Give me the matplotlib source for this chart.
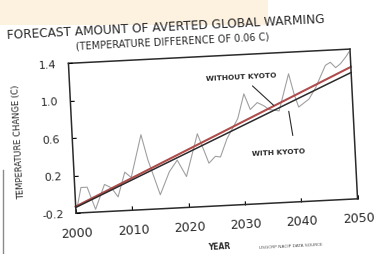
import matplotlib
matplotlib.use("Agg")
import matplotlib.pyplot as plt
from matplotlib.transforms import Affine2D
from matplotlib.patches import Rectangle
from matplotlib.lines import Line2D
import mpl_toolkits.axisartist.floating_axes as floating_axes
from mpl_toolkits.axisartist.grid_finder import FixedLocator, DictFormatter


# noisy model run (read off the photo, so only approximate)
years = [2000.3, 2001.1, 2002.2, 2003.5, 2005.3, 2006.5, 2007.6, 2009.0,
         2010.1, 2012.2, 2013.2, 2015.1, 2016.9, 2018.4, 2019.9, 2022.2,
         2024.0, 2025.2, 2026.1, 2027.4, 2029.5, 2030.8, 2031.8, 2033.1,
         2034.3, 2035.1, 2036.9, 2038.9, 2039.7, 2040.4, 2042.3, 2043.6,
         2044.5, 2045.5, 2046.4, 2047.3, 2048.2, 2049.2, 2049.8]
temp_change = [-0.13, 0.07, 0.07, -0.17, 0.09, 0.05, -0.05, 0.21,
               0.15, 0.60, 0.33, -0.05, 0.19, 0.31, 0.13, 0.58,
               0.26, 0.33, 0.32, 0.51, 0.72, 0.98, 0.81, 0.88,
               0.84, 0.80, 0.78, 1.17, 0.95, 0.81, 0.89, 1.01,
               1.12, 1.24, 1.27, 1.21, 1.25, 1.32, 1.37]

# straight trend lines
trend_years = [2000, 2050]
without_kyoto = [-0.13, 1.21]
with_kyoto = [-0.14, 1.15]

x_ticks = [2000, 2010, 2020, 2030, 2040, 2050]
y_ticks = [-0.2, 0.2, 0.6, 1.0, 1.4]
y_tick_labels = ["-0.2", "0.2", "0.6", "1.0", "1.4"]

TILT = 2.9  # the photographed page is turned a little
INK = "#2b2b2b"

fig = plt.figure(figsize=(3.83, 2.55), dpi=100)
fig.patches.append(Rectangle((0, 0.9), 0.7, 0.1, transform=fig.transFigure,
                             facecolor="#fdf1df", edgecolor="none", zorder=0))
fig.add_artist(Line2D([0.008, 0.008], [0, 0.33], color="#8a8a8a", lw=1,
                      transform=fig.transFigure))

# rotated axes: data -> (roughly) pixel units, then tilted
tr = Affine2D().translate(-2000, 0.2).scale(282 / 50, 150 / 1.6).rotate_deg(TILT)
grid_helper = floating_axes.GridHelperCurveLinear(
    tr, extremes=(2000, 2050, -0.2, 1.4),
    grid_locator1=FixedLocator(x_ticks),
    tick_formatter1=DictFormatter({x: str(x) for x in x_ticks}),
    grid_locator2=FixedLocator(y_ticks),
    tick_formatter2=DictFormatter(dict(zip(y_ticks, y_tick_labels))))
ax = fig.add_axes([0.1696, 0.154, 0.773, 0.656],
                  axes_class=floating_axes.FloatingAxes, grid_helper=grid_helper)

for side in ["left", "right", "bottom", "top"]:
    ax.axis[side].line.set_linewidth(1.1)
    ax.axis[side].line.set_color(INK)
for side in ["right", "top"]:
    ax.axis[side].toggle(ticks=False, ticklabels=False, label=False)

ax.axis["bottom"].major_ticks.set_ticksize(3)
ax.axis["left"].major_ticks.set_ticksize(3)
ax.axis["bottom"].major_ticklabels.set_fontsize(9)
ax.axis["bottom"].major_ticklabels.set_color(INK)
ax.axis["bottom"].major_ticklabels.set_pad(10)
ax.axis["left"].major_ticklabels.set_fontsize(8)
ax.axis["left"].major_ticklabels.set_color(INK)
ax.axis["left"].major_ticklabels.set_pad(9)
ax.axis["bottom"].label.set_text("YEAR")
ax.axis["bottom"].label.set_fontsize(5.5)
ax.axis["bottom"].label.set_fontweight("bold")
ax.axis["bottom"].label.set_color(INK)
ax.axis["bottom"].label.set_pad(9)
ax.axis["left"].label.set_text("TEMPERATURE CHANGE (C)")
ax.axis["left"].label.set_fontsize(6)
ax.axis["left"].label.set_color(INK)
ax.axis["left"].label.set_pad(11)

aux = ax.get_aux_axes(tr)
aux.plot(years, temp_change, color="#a0a0a0", lw=0.8)
aux.plot(trend_years, without_kyoto, color="#b04c4c", lw=1.5)
aux.plot(trend_years, with_kyoto, color=INK, lw=1.1)

aux.text(2030.4, 1.17, "WITHOUT KYOTO", rotation=TILT, rotation_mode="anchor",
         ha="center", va="center", fontsize=5.3, fontweight="bold", color=INK)
aux.annotate("", xy=(2036.0, 0.84), xytext=(2032.4, 1.06),
             arrowprops=dict(arrowstyle="-", color=INK, lw=0.8, shrinkA=0, shrinkB=0))
aux.text(2036.5, 0.35, "WITH KYOTO", rotation=TILT, rotation_mode="anchor",
         ha="center", va="center", fontsize=5.3, fontweight="bold", color=INK)
aux.annotate("", xy=(2038.6, 0.77), xytext=(2039.1, 0.51),
             arrowprops=dict(arrowstyle="-", color=INK, lw=0.8, shrinkA=0, shrinkB=0))

fig.text(166 / 383, 1 - 27 / 255, "FORECAST AMOUNT OF AVERTED GLOBAL WARMING",
         rotation=TILT, rotation_mode="anchor", ha="center", va="center",
         fontsize=8.7, color=INK)
fig.text(172 / 383, 1 - 42 / 255, "(TEMPERATURE DIFFERENCE OF 0.06 C)",
         rotation=TILT, rotation_mode="anchor", ha="center", va="center",
         fontsize=7, color=INK)
fig.text(291 / 383, 1 - 246 / 255, "USGCRP NACIP DATA SOURCE",
         rotation=TILT, rotation_mode="anchor", ha="center", va="center",
         fontsize=3.2, color="#555555")

fig.savefig("out.png", dpi=100)
